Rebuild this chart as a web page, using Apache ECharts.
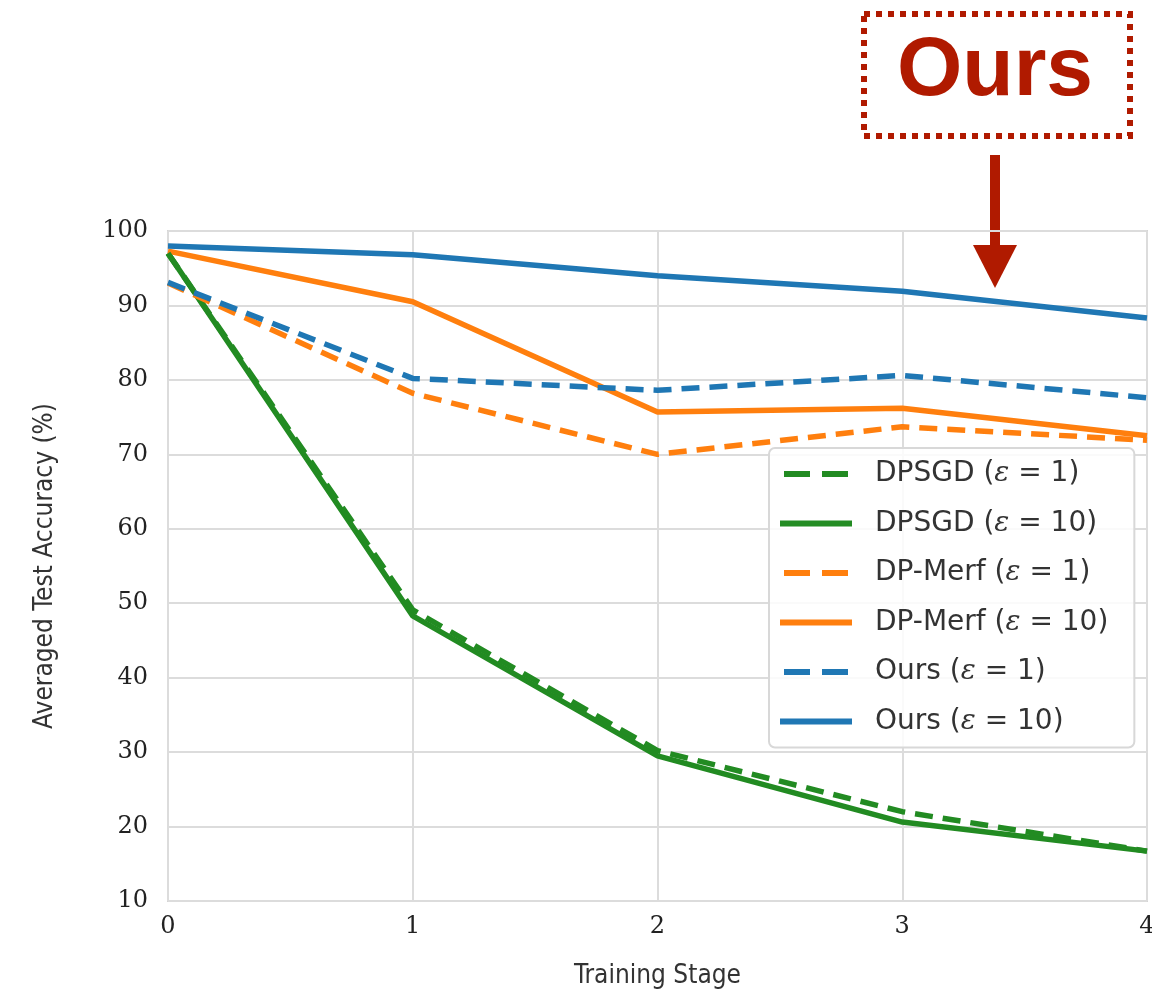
<!DOCTYPE html>
<html><head><meta charset="utf-8">
<script src="https://cdn.jsdelivr.net/npm/echarts@6/dist/echarts.min.js"></script>
<style>html,body{margin:0;padding:0;background:#fff;overflow:hidden}#c{width:1152px;height:995px}</style>
</head><body><div id="c"></div>
<script>
const stages = ['0','1','2','3','4'];
const dpsgdEps1  = [97.0, 49.1, 30.2, 22.0, 16.7];
const dpsgdEps10 = [97.0, 48.3, 29.5, 20.6, 16.7];
const merfEps1   = [93.0, 78.2, 70.0, 73.7, 71.9];
const merfEps10  = [97.3, 90.5, 75.7, 76.2, 72.5];
const oursEps1   = [93.1, 80.2, 78.6, 80.6, 77.6];
const oursEps10  = [98.0, 96.8, 94.0, 91.9, 88.3];
const yTicks = [10,20,30,40,50,60,70,80,90,100];

const GREEN='#228b22', ORANGE='#ff7f0e', BLUE='#1f77b4', RED='#b01a00';
function s(name, data, color, dashed){
  return {name, type:'line', data, symbol:'none', smooth:false,
    lineStyle:{color, width:5.5, type: dashed?[18,10]:'solid', cap:'butt'},
    itemStyle:{color}, z: dashed?3:2, _dashed: dashed};
}
const series = [
  s('DPSGD (ε = 1)', dpsgdEps1, GREEN, true),
  s('DPSGD (ε = 10)', dpsgdEps10, GREEN, false),
  s('DP-Merf (ε = 1)', merfEps1, ORANGE, true),
  s('DP-Merf (ε = 10)', merfEps10, ORANGE, false),
  s('Ours (ε = 1)', oursEps1, BLUE, true),
  s('Ours (ε = 10)', oursEps10, BLUE, false)
];
const legendData = series.map(x=>({name:x.name,
  lineStyle:{width:6, type: x._dashed ? [26,12] : 'solid', cap:'butt', dashOffset:-4}}));
const chart = echarts.init(document.getElementById('c'));
chart.setOption({
  backgroundColor:'#fff',
  animation:false,
  grid:{left:168, right:5, top:231, bottom:94, show:true, borderColor:'#d4d4d4', borderWidth:2, outerBoundsMode:'none', containLabel:false},
  xAxis:{type:'category', data:stages, boundaryGap:false,
    name:'Training Stage', nameLocation:'middle', nameGap:62,
    nameTextStyle:{fontFamily:'DejaVu Sans Condensed, Liberation Sans Narrow, sans-serif', fontSize:26, color:'#333'},
    axisLine:{show:false}, axisTick:{show:false},
    axisLabel:{fontFamily:'DejaVu Serif, serif', fontSize:24, color:'#222', margin:14},
    splitLine:{show:true, lineStyle:{color:'#dcdcdc', width:2}}},
  yAxis:{type:'value', min:10, max:100, interval:10,
    name:'Averaged Test Accuracy (%)', nameLocation:'middle', nameGap:110, nameRotate:90,
    nameTextStyle:{fontFamily:'DejaVu Sans Condensed, Liberation Sans Narrow, sans-serif', fontSize:26, color:'#333'},
    axisLine:{show:false}, axisTick:{show:false},
    axisLabel:{fontFamily:'DejaVu Serif, serif', fontSize:24, color:'#222', margin:20,
      formatter: v => yTicks.includes(v) ? String(v) : ''},
    splitLine:{show:true, lineStyle:{color:'#dcdcdc', width:2}}},
  legend:{orient:'vertical', left:769, top:448,
    padding:[12,26,12,8], itemGap:21.5, itemWidth:72, itemHeight:28,
    backgroundColor:'rgba(255,255,255,0.85)', borderColor:'#d8d8d8', borderWidth:2, borderRadius:6,
    itemStyle:{opacity:0},
    formatter: n => n.replace('ε', '{i|ε}'),
    textStyle:{fontFamily:'DejaVu Sans, sans-serif', fontSize:28, color:'#333', padding:[0,0,0,18],
      rich:{i:{fontFamily:'DejaVu Serif, serif', fontStyle:'italic', fontSize:28, color:'#333'}}},
    data: legendData},
  series,
  graphic:[
    {type:'rect', shape:{x:864, y:14, width:266, height:122},
      style:{fill:'none', stroke:RED, lineWidth:6, lineDash:[6,6]}},
    {type:'text', left:897, top:30,
      style:{text:'Ours', fontFamily:'Liberation Sans, Arial, sans-serif', fontWeight:'bold', fontSize:84, fill:RED}},
    {type:'rect', shape:{x:990, y:155, width:10, height:92}, style:{fill:RED}},
    {type:'polygon', shape:{points:[[973,245],[1017,245],[995,288]]}, style:{fill:RED}}
  ]
});
</script></body></html>
